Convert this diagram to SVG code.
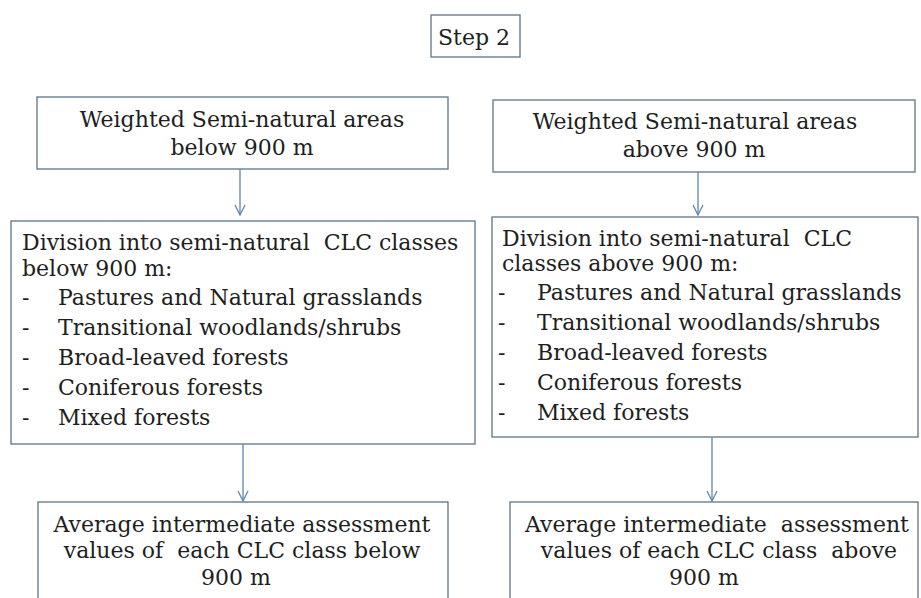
<svg xmlns="http://www.w3.org/2000/svg" width="921" height="598" viewBox="0 0 921 598">
<style>
.box{fill:#ffffff;stroke:#5d7484;stroke-width:1.3}
.t{font-family:"DejaVu Serif","Liberation Serif",serif;font-size:22px;fill:#1e1e1e;white-space:pre}
.c{text-anchor:middle}
.con{stroke:#5f86b0;stroke-width:1.3;fill:none}
</style>
<defs>
<marker id="arr" viewBox="0 0 12 12" refX="11" refY="6" markerWidth="12" markerHeight="12" markerUnits="userSpaceOnUse" orient="auto">
<path d="M1,1 L11,6 L1,11" fill="none" stroke="#5f86b0" stroke-width="1.3"/>
</marker>
</defs>
<rect width="921" height="598" fill="#ffffff"/>
<g id="step2">
<rect class="box" x="431" y="15" width="89" height="42"/>
<text class="t c" x="474" y="45">Step 2</text>
</g>
<g id="top-left">
<rect class="box" x="37" y="97" width="411" height="72"/>
<text class="t c" x="242" y="127">Weighted Semi-natural areas</text>
<text class="t c" x="242" y="155">below 900 m</text>
</g>
<g id="top-right">
<rect class="box" x="493" y="100" width="422" height="72"/>
<text class="t c" x="695" y="129">Weighted Semi-natural areas</text>
<text class="t c" x="694" y="157">above 900 m</text>
</g>
<g id="mid-left">
<rect class="box" x="11" y="221" width="464" height="223"/>
<text class="t" x="22" y="250">Division into semi-natural  CLC classes</text>
<text class="t" x="22" y="276">below 900 m:</text>
<text class="t" x="22" y="305">-</text><text class="t" x="58" y="305">Pastures and Natural grasslands</text>
<text class="t" x="22" y="335">-</text><text class="t" x="58" y="335">Transitional woodlands/shrubs</text>
<text class="t" x="22" y="365">-</text><text class="t" x="58" y="365">Broad-leaved forests</text>
<text class="t" x="22" y="395">-</text><text class="t" x="58" y="395">Coniferous forests</text>
<text class="t" x="22" y="425">-</text><text class="t" x="58" y="425">Mixed forests</text>
</g>
<g id="mid-right">
<rect class="box" x="492" y="217" width="426" height="220"/>
<text class="t" x="502" y="246">Division into semi-natural  CLC</text>
<text class="t" x="502" y="271">classes above 900 m:</text>
<text class="t" x="498" y="300">-</text><text class="t" x="537" y="300">Pastures and Natural grasslands</text>
<text class="t" x="498" y="330">-</text><text class="t" x="537" y="330">Transitional woodlands/shrubs</text>
<text class="t" x="498" y="360">-</text><text class="t" x="537" y="360">Broad-leaved forests</text>
<text class="t" x="498" y="390">-</text><text class="t" x="537" y="390">Coniferous forests</text>
<text class="t" x="498" y="420">-</text><text class="t" x="537" y="420">Mixed forests</text>
</g>
<g id="bottom-left">
<rect class="box" x="38" y="502" width="410" height="110"/>
<text class="t c" x="242" y="532">Average intermediate assessment</text>
<text class="t c" x="242" y="558">values of  each CLC class below</text>
<text class="t c" x="236" y="585">900 m</text>
</g>
<g id="bottom-right">
<rect class="box" x="510" y="502" width="408" height="110"/>
<text class="t c" x="717" y="532">Average intermediate  assessment</text>
<text class="t c" x="719" y="558">values of each CLC class  above</text>
<text class="t c" x="704" y="585">900 m</text>
</g>
<g id="connectors">
<line class="con" x1="240" y1="169" x2="240" y2="215" marker-end="url(#arr)"/>
<line class="con" x1="698" y1="172" x2="698" y2="215" marker-end="url(#arr)"/>
<line class="con" x1="243" y1="444" x2="243" y2="501" marker-end="url(#arr)"/>
<line class="con" x1="712" y1="437" x2="712" y2="501" marker-end="url(#arr)"/>
</g>
</svg>
